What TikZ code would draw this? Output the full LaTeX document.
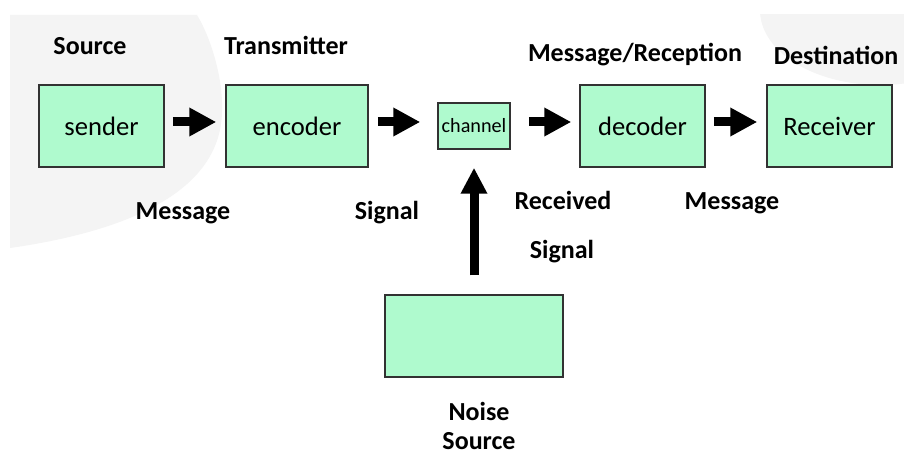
\documentclass[tikz,border=0pt]{standalone}
\usepackage{fontspec}
\setmainfont{Carlito}
\usetikzlibrary{arrows.meta}
\definecolor{boxgreen}{RGB}{175,250,206}
\definecolor{bggray}{RGB}{244,244,244}
\definecolor{boxline}{RGB}{50,50,50}
\begin{document}
\begin{tikzpicture}[x=0.5pt, y=-0.5pt,
    box/.style = {draw=boxline, fill=boxgreen, line width=0.75pt, inner sep=0pt,
                  minimum height=41pt, font=\fontsize{13.3}{16}\selectfont},
    lbl/.style = {anchor=base, inner sep=0pt, font=\fontsize{13}{16}\selectfont\bfseries},
    bigarrow/.style = {line width=4.5pt, -{Triangle[length=13.5pt, width=13.5pt]}}]
                   \useasboundingbox (0,0) rectangle (904,454);
                   \fill[white] (0,0) rectangle (904,454);

                   % grey backgrounds
                   \fill[bggray] (10,15) -- (197,15) .. controls (212,40) and (223,80) .. (222,110)
                       .. controls (222,170) and (170,225) .. (10,248) -- cycle;
                   \begin{scope}
                   \clip (0,15) rectangle (904,454);
                   \fill[bggray] (880,10) ellipse [x radius=120, y radius=75];
                   \end{scope}

                   \node[box, minimum width=62.5pt] (sender) at (101.5,126) {sender};
                   \node[box, minimum width=71pt] (encoder) at (297,126) {encoder};
                   \node[box, minimum width=36pt, minimum height=23pt,
                         font=\fontsize{10.1}{12}\selectfont] (channel) at (474,126) {channel};
                   \node[box, minimum width=62.5pt] (decoder) at (642.5,126) {decoder};
                   \node[box, minimum width=62.5pt] (receiver) at (829.5,126) {Receiver};
                   \node[box, minimum width=89pt] (noise) at (474,336) {};

                   \draw[bigarrow, shorten <=4pt, shorten >=4.5pt] ([yshift=2pt]sender.east) -- ([yshift=2pt]encoder.west);
                   \draw[bigarrow, shorten <=4.5pt, shorten >=8.5pt] ([yshift=2pt]encoder.east) -- ([yshift=2pt]channel.west);
                   \draw[bigarrow, shorten <=9pt, shorten >=4pt] ([yshift=2pt]channel.east) -- ([yshift=2pt]decoder.west);
                   \draw[bigarrow, shorten <=4pt, shorten >=4.5pt] ([yshift=2pt]decoder.east) -- ([yshift=2pt]receiver.west);
                   \draw[line width=4.5pt, -{Triangle[length=13pt, width=12.5pt]},
                         shorten <=9.5pt, shorten >=9pt] (noise.north) -- (channel.south);

                   \node[lbl] (source) at (90,55) {Source};
                   \node[lbl] (transmitter) at (286,55) {Transmitter};
                   \node[lbl] (reception) at (635,62) {Message/Reception};
                   \node[lbl] (destination) at (836,65) {Destination};
                   \node[lbl] (message1) at (183,220) {Message};
                   \node[lbl] (signal1) at (387,220) {Signal};
                   \node[lbl] (received) at (563,210) {Received};
                   \node[lbl] (signal2) at (562,258) {Signal};
                   \node[lbl] (message2) at (732,210) {Message};
                   \node[lbl] (noiselbl) at (479,420) {Noise};
                   \node[lbl] (sourcelbl) at (479,449) {Source};

        \end{tikzpicture}
\end{document}
